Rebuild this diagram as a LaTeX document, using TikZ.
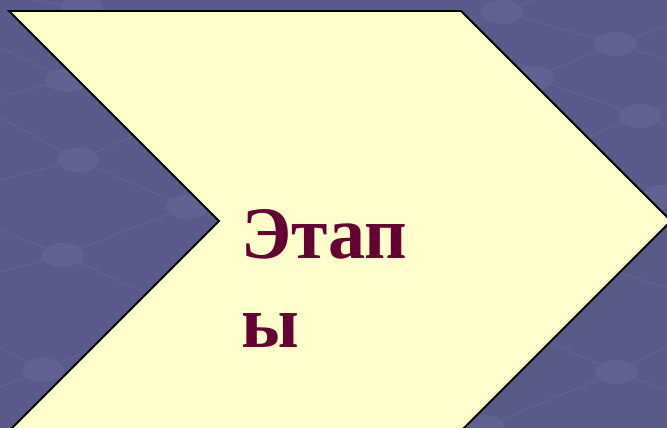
\documentclass[tikz,border=0pt]{standalone}
\usepackage{fontspec}
\setmainfont{Liberation Serif}
\definecolor{bgblue}{RGB}{90,90,138}
\definecolor{netline}{RGB}{99,99,147}
\definecolor{bubble}{RGB}{98,98,146}
\definecolor{chevfill}{RGB}{255,255,204}
\definecolor{maroon}{RGB}{102,0,51}
\begin{document}
\begin{tikzpicture}[x=1pt,y=-1pt,
  net/.style={draw=netline,line width=1.1pt},
  bub/.style={fill=bubble,draw=none},
  chevron/.style={fill=chevfill,draw=black,line width=1.8pt,line join=miter},
  title/.style={text=maroon,font=\fontsize{74}{89}\selectfont\bfseries,inner sep=0pt,anchor=base west}]
\useasboundingbox (0,0) rectangle (667,428);
\fill[bgblue] (0,0) rectangle (667,428);
\begin{scope}
\clip (0,0) rectangle (667,428);
% network lines (left)
\draw[net] (0,47) -- (67,80) -- (150,115);
\draw[net] (0,97) -- (67,80) -- (150,50);
\draw[net] (0,117) -- (78,160) -- (187,207);
\draw[net] (0,180) -- (78,160) -- (140,133);
\draw[net] (0,230) -- (63,255) -- (150,295);
\draw[net] (0,272) -- (63,255) -- (187,207);
\draw[net] (0,347) -- (43,370) -- (100,395);
\draw[net] (0,387) -- (43,370) -- (95,348);
\draw[net] (30,0) -- (82,7) -- (140,25);
\draw[net] (60,18) -- (82,7) -- (100,0);
% network lines (right)
\draw[net] (460,30) -- (502,12) -- (550,-5);
\draw[net] (502,12) -- (615,44) -- (680,64);
\draw[net] (533,78) -- (615,44) -- (680,22);
\draw[net] (533,78) -- (640,116) -- (680,130);
\draw[net] (580,140) -- (640,116) -- (680,100);
\draw[net] (600,266) -- (680,292);
\draw[net] (540,338) -- (617,372) -- (680,394);
\draw[net] (483,427) -- (617,372) -- (680,340);
% bubbles
\foreach \p in {(82,7),(67,80),(78,160),(187,207),(63,255),(43,370),(502,12),(615,44),(533,78),(640,116),(663,197),(617,372),(483,427)}
  \fill[bub] \p ellipse (21 and 12);
% chevron
\draw[chevron] (9,11) -- (461,11) -- (671,221) -- (454,438) -- (2,438) -- (219,221) -- cycle;
\end{scope}
\node[title] (l1) at (241,258) {Этап};
\node[title] (l2) at (241,347) {ы};
\end{tikzpicture}
\end{document}
